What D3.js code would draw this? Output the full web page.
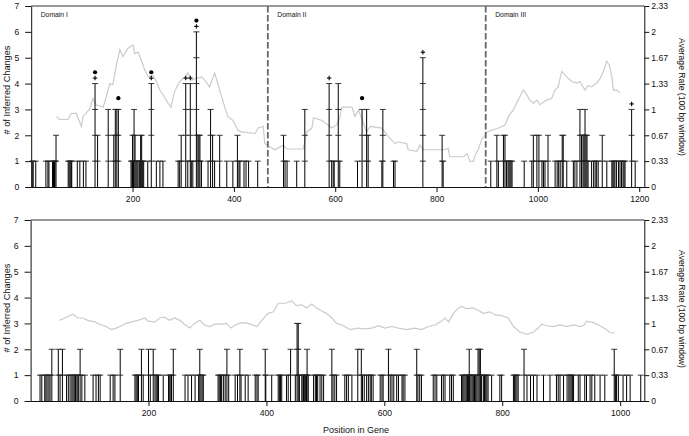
<!DOCTYPE html>
<html><head><meta charset="utf-8">
<script src="https://cdn.jsdelivr.net/npm/d3@7"></script>
<style>
body{margin:0;background:#fff;}
svg{display:block;font-family:"Liberation Sans",Arial,sans-serif;}
</style></head>
<body><svg id="c" width="689" height="436"></svg>
<script>
// ---------------- DATA ----------------
const topPositions = [2,4,9,29,33,35,42,44,46,47,49,73,75,77,79,80,91,96,103,108,126,131,152,163,166,169,172,197,199,200,202,203,205,207,209,211,214,216,218,220,222,230,237,247,254,260,290,293,296,305,309,314,316,319,326,329,331,333,336,349,354,358,362,372,386,398,407,410,412,420,424,429,447,498,501,505,524,540,588,593,596,598,606,609,644,653,662,665,692,694,715,718,773,811,813,907,919,922,932,935,938,941,943,945,947,949,973,988,991,998,1002,1008,1011,1014,1020,1034,1038,1041,1044,1048,1050,1057,1070,1073,1077,1083,1086,1089,1091,1093,1095,1097,1099,1106,1110,1113,1116,1119,1127,1136,1146,1148,1150,1152,1155,1159,1162,1165,1168,1170,1172,1185,1192];
const topChanges   = [1,1,1,1,1,1,1,1,1,1,2,1,1,1,1,1,1,1,1,1,4,2,3,2,3,3,3,1,1,2,1,3,2,1,1,1,1,2,2,1,1,1,4,1,1,1,1,1,2,4,1,4,1,1,6,2,2,2,1,1,3,2,1,2,1,1,2,1,1,1,1,1,1,2,1,1,1,3,4,1,1,1,4,1,1,3,3,2,1,3,1,1,5,2,1,1,2,1,2,2,1,1,1,1,1,1,1,1,2,2,2,1,1,1,2,1,1,1,1,2,2,1,1,1,1,3,2,2,2,3,2,2,1,1,1,1,1,1,2,1,1,1,1,1,1,1,1,1,1,1,1,3,1];
const topPlusSites = [126,237,305,314,326,588,773,1185];
const topDotSites  = [126,172,237,326,653];
const domainBreaks = [467,897];
const domainLabels = ["Domain I","Domain II","Domain III"];
const domainStarts = [0,467,897];

const topRatePos = [50,56,73,79,89,99,102,115,122,128,142,148,155,161,168,175,181,191,201,204,211,217,224,231,240,247,254,263,270,276,283,293,303,309,316,326,336,342,352,362,372,382,388,398,408,415,442,448,458,461,471,481,498,504,537,544,554,557,573,586,593,603,609,613,633,639,646,652,662,669,692,705,718,724,741,744,761,767,774,817,823,826,853,860,866,873,876,882,889,896,899,922,935,942,951,961,971,978,984,991,998,1004,1017,1027,1034,1040,1047,1057,1067,1077,1083,1093,1099,1106,1116,1123,1129,1136,1141,1146,1149,1156,1162];
const topRate    = [0.91,0.87,0.87,0.95,0.95,0.78,0.91,1.0,1.14,1.06,1.03,1.16,1.33,1.32,1.57,1.77,1.68,1.79,1.83,1.72,1.74,1.64,1.51,1.42,1.44,1.36,1.25,1.16,1.08,1.03,1.23,1.36,1.42,1.47,1.38,1.40,1.42,1.38,1.29,1.47,1.25,1.03,0.91,0.86,0.73,0.71,0.69,0.76,0.78,0.56,0.52,0.48,0.54,0.49,0.49,0.71,0.76,0.89,0.86,0.80,0.76,0.80,0.89,1.03,1.03,0.91,0.99,0.89,0.71,0.78,0.76,0.65,0.56,0.58,0.56,0.48,0.46,0.54,0.48,0.48,0.50,0.39,0.39,0.43,0.33,0.33,0.41,0.48,0.61,0.67,0.71,0.76,0.80,0.91,0.99,1.12,1.25,1.19,1.12,1.08,1.12,1.06,1.12,1.14,1.25,1.29,1.49,1.42,1.36,1.34,1.36,1.25,1.31,1.29,1.34,1.40,1.49,1.62,1.57,1.42,1.25,1.25,1.21];

const botPositions = [16,19,24,26,28,31,33,36,47,50,54,61,64,67,70,72,74,76,77,79,81,84,87,92,106,111,115,118,135,140,143,152,177,179,181,183,188,191,200,203,208,211,213,215,217,225,234,236,238,239,242,262,267,273,279,285,287,289,291,293,318,320,322,324,327,330,333,336,347,351,355,357,364,369,381,384,386,398,399,409,420,422,424,426,434,437,441,449,452,454,456,460,462,463,465,466,468,469,471,480,483,485,487,491,494,497,511,513,516,519,533,536,539,545,555,561,563,566,570,573,576,578,581,593,596,598,607,610,613,616,621,624,630,632,635,655,657,660,663,683,686,689,697,700,703,711,714,717,731,733,735,737,739,741,743,744,745,747,749,751,753,755,757,759,761,763,765,768,770,772,774,776,782,796,799,819,821,823,825,827,837,842,848,853,859,870,881,892,895,898,904,910,913,915,917,919,921,929,932,940,943,949,952,957,966,974,990,992,994,997,1005,1011,1017,1035];
const botChanges   = [1,1,1,1,1,1,1,2,2,1,2,1,1,1,1,1,1,1,1,1,1,2,1,1,1,1,1,1,1,1,1,2,1,1,1,1,2,1,2,1,2,1,1,1,1,1,1,1,1,1,2,1,1,1,1,1,2,1,1,1,1,1,1,1,1,1,2,1,1,1,2,1,1,1,1,1,1,2,1,1,1,1,1,1,1,1,2,1,3,3,1,1,1,1,1,1,1,2,1,1,1,1,1,1,1,1,2,1,1,1,1,1,1,1,2,2,1,1,1,1,1,1,1,1,1,1,2,1,1,1,1,1,1,1,1,2,1,1,1,1,1,1,1,1,1,1,1,1,1,1,1,1,1,1,1,2,1,1,1,1,1,1,1,2,2,2,1,1,1,1,1,1,1,1,1,1,1,1,1,1,2,1,1,1,1,1,1,1,1,1,1,1,1,1,1,1,1,1,1,1,1,1,1,1,1,1,2,1,1,1,1,1,1,1];

const botRatePos = [49,58,63,72,80,89,97,109,117,128,137,145,154,162,171,182,194,199,211,219,227,236,244,253,261,270,278,287,295,304,312,324,332,340,347,358,369,384,392,403,412,420,432,443,451,460,468,477,485,494,502,511,519,528,542,556,567,579,590,601,613,624,638,652,663,675,686,697,703,709,717,726,731,740,751,759,768,779,788,799,810,819,830,842,853,861,867,875,887,898,909,921,932,939,943,955,966,977,983,991];
const botRate    = [1.04,1.07,1.09,1.12,1.07,1.07,1.04,1.02,0.99,0.96,0.92,0.94,0.97,1.0,1.02,1.04,1.07,1.03,1.02,1.07,1.08,1.04,1.07,1.04,0.99,0.94,1.0,1.04,0.98,0.96,0.99,0.99,1.0,0.94,0.98,1.01,1.0,0.96,1.04,1.13,1.15,1.26,1.26,1.29,1.23,1.24,1.20,1.25,1.20,1.16,1.13,1.07,1.0,0.98,0.92,0.94,0.93,0.94,0.97,0.94,0.96,0.94,0.92,0.94,0.92,0.96,0.98,1.03,1.07,1.02,1.13,1.20,1.22,1.19,1.20,1.17,1.13,1.15,1.11,1.10,1.07,0.96,0.89,0.86,0.89,0.94,0.99,0.97,0.96,0.98,0.96,0.98,0.96,0.98,1.03,1.01,0.97,0.92,0.88,0.88];

const leftTicks  = [0,1,2,3,4,5,6,7];
const rightTicks = [0,1/3,2/3,1,4/3,5/3,2,7/3];
const rightTickLabels = ["0","0.33","0.67","1","1.33","1.67","2","2.33"];
const topXTicks = [200,400,600,800,1000,1200];
const botXTicks = [200,400,600,800,1000];

// ---------------- DRAW ----------------
const svg = d3.select("#c");
const FS = 8.6;
const fmtInt = d3.format("d");

function panel(cfg){
  const g = svg.append("g");
  const x = d3.scaleLinear().domain(cfg.xDomain).range(cfg.xRange);
  const y = d3.scaleLinear().domain([0,7]).range([cfg.y1, cfg.y0]);
  const yR = d3.scaleLinear().domain([0,7/3]).range([cfg.y1, cfg.y0]);
  const L = cfg.xRange[0], R = cfg.xRange[1];

  g.append("line").attr("x1",L).attr("x2",R).attr("y1",cfg.y0).attr("y2",cfg.y0)
    .attr("stroke","#333").attr("stroke-width",1);

  const rl = d3.line().x(d=>x(d[0])).y(d=>yR(d[1]));
  g.append("path").datum(cfg.ratePos.map((p,i)=>[p,cfg.rate[i]]))
    .attr("d",rl).attr("fill","none").attr("stroke","#cbcbcb").attr("stroke-width",1.2);

  if(cfg.breaks){
    g.selectAll(".brk").data(cfg.breaks).enter().append("line")
      .attr("x1",d=>x(d)).attr("x2",d=>x(d)).attr("y1",cfg.y0).attr("y2",cfg.y1)
      .attr("stroke","#666").attr("stroke-width",1.8).attr("stroke-dasharray","6.5,2.5");
    g.selectAll(".dl").data(cfg.labels).enter().append("text")
      .attr("x",(d,i)=>x(cfg.labelStarts[i])+9.5).attr("y",cfg.y0+11)
      .attr("font-size",6.8).attr("fill","#111").text(d=>d);
  }

  const sites = cfg.pos.map((p,i)=>({p, c:cfg.cnt[i]}));
  const bg = g.append("g");
  sites.forEach(s=>{
    bg.append("line").attr("x1",x(s.p)).attr("x2",x(s.p)).attr("y1",y(0)).attr("y2",y(s.c))
      .attr("stroke","#000").attr("stroke-width",1);
    d3.range(1,s.c+1).forEach(k=>{
      bg.append("line").attr("x1",x(s.p)-3).attr("x2",x(s.p)+3).attr("y1",y(k)).attr("y2",y(k))
        .attr("stroke","#222").attr("stroke-width",0.9);
    });
  });

  const cntOf = p => cfg.cnt[cfg.pos.indexOf(p)];
  (cfg.plus||[]).forEach(p=>{
    const cx = x(p), cy = y(cntOf(p)) - 5.5;
    g.append("line").attr("x1",cx-2.2).attr("x2",cx+2.2).attr("y1",cy).attr("y2",cy).attr("stroke","#000").attr("stroke-width",1.1);
    g.append("line").attr("x1",cx).attr("x2",cx).attr("y1",cy-2.2).attr("y2",cy+2.2).attr("stroke","#000").attr("stroke-width",1.1);
  });
  (cfg.dots||[]).forEach(p=>{
    g.append("circle").attr("cx",x(p)).attr("cy",y(cntOf(p))-11.3).attr("r",2.1).attr("fill","#000");
  });

  const ax = g.append("g").attr("transform",`translate(0,${cfg.y1})`)
    .call(d3.axisBottom(x).tickValues(cfg.xTicks).tickFormat(fmtInt).tickSize(5).tickSizeOuter(0).tickPadding(4));
  ax.select(".domain").attr("d",`M${L},0.5H${R}`);
  const al = g.append("g").attr("transform",`translate(${L},0)`)
    .call(d3.axisLeft(y).tickValues(leftTicks).tickFormat(fmtInt).tickSize(6).tickSizeOuter(0).tickPadding(6));
  const ar = g.append("g").attr("transform",`translate(${R},0)`)
    .call(d3.axisRight(yR).tickValues(rightTicks).tickSize(5).tickSizeOuter(0).tickPadding(2)
      .tickFormat((d,i)=>rightTickLabels[i]));
  [ax,al,ar].forEach(a=>{
    a.selectAll("text").attr("font-size",FS).attr("fill","#111");
    a.selectAll("line").attr("stroke","#111");
    a.select(".domain").attr("stroke","#111");
    a.attr("font-family",null).attr("font-size",null);
  });

  g.append("text").attr("transform",`translate(10,${cfg.ltY}) rotate(-90)`)
    .attr("text-anchor","middle").attr("font-size",9.2).attr("fill","#111").text("# of Inferred Changes");
  g.append("text").attr("transform",`translate(678.5,${cfg.rtY}) rotate(90)`)
    .attr("text-anchor","middle").attr("font-size",FS).attr("fill","#111").text("Average Rate (100 bp window)");
}

panel({xDomain:[0,1210], xRange:[31.2,644.3], y0:6, y1:187,
  pos:topPositions, cnt:topChanges, ratePos:topRatePos, rate:topRate,
  plus:topPlusSites, dots:topDotSites, breaks:domainBreaks, labels:domainLabels, labelStarts:domainStarts,
  xTicks:topXTicks, ltY:90, rtY:97});
panel({xDomain:[0,1041], xRange:[30.6,644.3], y0:220, y1:401,
  pos:botPositions, cnt:botChanges, ratePos:botRatePos, rate:botRate,
  xTicks:botXTicks, ltY:308, rtY:309});

svg.append("text").attr("x",356).attr("y",433).attr("text-anchor","middle")
  .attr("font-size",FS+0.4).attr("fill","#111").text("Position in Gene");
</script></body></html>
